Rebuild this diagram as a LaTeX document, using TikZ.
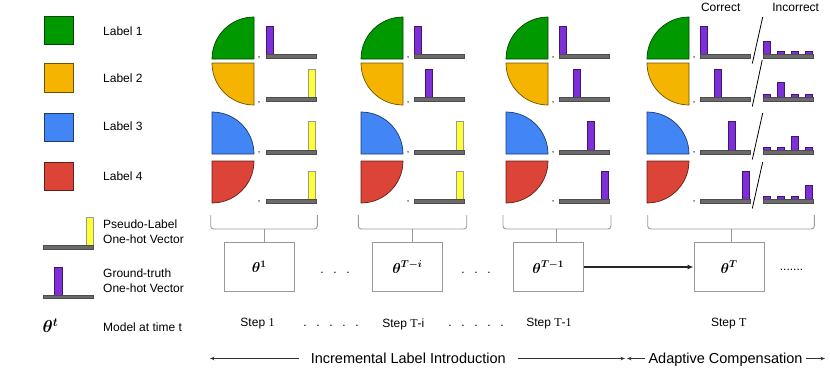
\documentclass[tikz,border=0pt]{standalone}
\usepackage{fontspec}
\setmainfont{Liberation Sans}
\newfontfamily\sernum{Liberation Serif}
\usetikzlibrary{arrows.meta}
\definecolor{cgreen}{HTML}{009900}
\definecolor{cyellow}{HTML}{F4B400}
\definecolor{cblue}{HTML}{4285F4}
\definecolor{cred}{HTML}{DB4437}
\definecolor{cpurple}{HTML}{7E2FD8}
\definecolor{cbright}{HTML}{FFFF33}
\definecolor{cgray}{HTML}{6B6B6B}
\definecolor{cline}{HTML}{999999}
\newcommand{\QuadTL}[3]{\filldraw[#3,shift={(#1,#2)}] (-42,0) .. controls (-42,-23.2) and (-23.2,-42) .. (0,-42) -- (0,0) -- cycle;}
\newcommand{\QuadBL}[3]{\filldraw[#3,shift={(#1,#2)}] (-42,0) .. controls (-42,23.2) and (-23.2,42) .. (0,42) -- (0,0) -- cycle;}
\newcommand{\QuadTR}[3]{\filldraw[#3,shift={(#1,#2)}] (0,-42) .. controls (23.2,-42) and (42,-23.2) .. (42,0) -- (0,0) -- cycle;}
\newcommand{\QuadBR}[3]{\filldraw[#3,shift={(#1,#2)}] (42,0) .. controls (42,23.2) and (23.2,42) .. (0,42) -- (0,0) -- cycle;}
\newcommand{\HotBar}[5]{\filldraw[#5] ({#1+14*#3},{#2}) rectangle ({#1+14*#3+7.5},{#2-#4});}
\newcommand{\GrayBar}[2]{\filldraw[graybar] (#1,#2) rectangle ({#1+50},{#2+3.8});}
\tikzset{
  greenq/.style={fill=cgreen, draw=cgreen!45!black, line width=0.7pt},
  yellowq/.style={fill=cyellow, draw=cyellow!45!black, line width=0.7pt},
  blueq/.style={fill=cblue, draw=cblue!45!black, line width=0.7pt},
  redq/.style={fill=cred, draw=cred!45!black, line width=0.7pt},
  purplebar/.style={fill=cpurple, draw=cpurple!50!black, line width=0.6pt},
  yellowbar/.style={fill=cbright, draw=black!40, line width=0.6pt},
  graybar/.style={fill=cgray, draw=black!70, line width=0.6pt},
  slashline/.style={draw=black, line width=0.8pt},
  comma/.style={font=\fontsize{9}{10}\selectfont, inner sep=0pt, anchor=base},
  mbox/.style={draw=cline, line width=0.9pt, minimum width=70pt, minimum height=49.5pt, inner sep=0pt, font=\fontsize{14}{16}\selectfont\boldmath},
  bracel/.style={draw=cline, line width=0.9pt, rounded corners=3pt},
  bracetip/.style={draw=cline, line width=0.9pt},
  lbl/.style={anchor=west, font=\fontsize{12}{15}\selectfont, inner sep=0pt, align=left},
  toplbl/.style={font=\fontsize{12}{14}\selectfont, inner sep=0pt},
  steplbl/.style={font=\fontsize{12}{14}\selectfont, inner sep=0pt},
  dotstxt/.style={font=\fontsize{12}{14}\selectfont, inner sep=0pt},
  bigtxt/.style={font=\fontsize{14.5}{17}\selectfont, inner ysep=0pt, text height=10.4pt, text depth=0pt},
  tipline/.style={draw=black!80, line width=0.8pt, -{Stealth[length=4.5pt,width=3.5pt]}},
  flowarrow/.style={draw=black!85, line width=1.3pt, -{Latex[length=6pt,width=5pt]}},
}
\begin{document}
\begin{tikzpicture}[x=1pt,y=-1pt]
\useasboundingbox (0,0) rectangle (830,367);

% ---------------- legend ----------------
\filldraw[greenq] (44,16) rectangle (73,44);
\filldraw[yellowq] (44,63) rectangle (73,92);
\filldraw[blueq] (44,113) rectangle (73,141);
\filldraw[redq] (44,162) rectangle (73,190);
\node[lbl] (l1) at (103,31) {Label 1};
\node[lbl] (l2) at (103,78) {Label 2};
\node[lbl] (l3) at (103,126.5) {Label 3};
\node[lbl] (l4) at (103,176) {Label 4};

\filldraw[yellowbar] (86,245.5) rectangle (93.5,217);
\filldraw[graybar] (43,245.5) rectangle (93.5,249.3);
\node[lbl] (lp) at (103,231.5) {Pseudo-Label\\One-hot Vector};

\filldraw[purplebar] (54,295) rectangle (62,267);
\filldraw[graybar] (43,295) rectangle (93.5,298.6);
\node[lbl] (lg) at (103,281) {Ground-truth\\One-hot Vector};

\node[font=\fontsize{18}{20}\selectfont\boldmath, inner sep=0pt] (tleg) at (50.5,326) {$\theta^t$};
\node[lbl] (lm) at (103,327) {Model at time t};

% ---------------- column 1 ----------------
\QuadTL{254}{59}{greenq}
\QuadBL{254}{63}{yellowq}
\QuadTR{212}{154}{blueq}
\QuadBR{212}{161}{redq}
\node[comma] (c11) at (259,57) {,};
\node[comma] (c12) at (259,102) {,};
\node[comma] (c13) at (259,152) {,};
\node[comma] (c14) at (259,201) {,};
\HotBar{266}{54.5}{0}{28.5}{purplebar}\GrayBar{266}{54.5}
\HotBar{266}{97.3}{3}{28.5}{yellowbar}\GrayBar{266}{97.3}
\HotBar{266}{150.1}{3}{28.5}{yellowbar}\GrayBar{266}{150.1}
\HotBar{266}{199.3}{3}{28.5}{yellowbar}\GrayBar{266}{199.3}

% ---------------- column 2 ----------------
\QuadTL{403}{59}{greenq}
\QuadBL{403}{63}{yellowq}
\QuadTR{361}{154}{blueq}
\QuadBR{361}{161}{redq}
\node[comma] (c21) at (408,57) {,};
\node[comma] (c22) at (408,102) {,};
\node[comma] (c23) at (408,152) {,};
\node[comma] (c24) at (408,201) {,};
\HotBar{414}{54.5}{0}{28.5}{purplebar}\GrayBar{414}{54.5}
\HotBar{414}{97.3}{0.8}{28.5}{purplebar}\GrayBar{414}{97.3}
\HotBar{414}{150.1}{3}{28.5}{yellowbar}\GrayBar{414}{150.1}
\HotBar{414}{199.3}{3}{28.5}{yellowbar}\GrayBar{414}{199.3}

% ---------------- column 3 ----------------
\QuadTL{548}{59}{greenq}
\QuadBL{548}{63}{yellowq}
\QuadTR{506}{154}{blueq}
\QuadBR{506}{161}{redq}
\node[comma] (c31) at (553,57) {,};
\node[comma] (c32) at (553,102) {,};
\node[comma] (c33) at (553,152) {,};
\node[comma] (c34) at (553,201) {,};
\HotBar{559}{54.5}{0}{28.5}{purplebar}\GrayBar{559}{54.5}
\HotBar{559}{97.3}{1}{28.5}{purplebar}\GrayBar{559}{97.3}
\HotBar{559}{150.1}{2}{28.5}{purplebar}\GrayBar{559}{150.1}
\HotBar{559}{199.3}{3}{28.5}{purplebar}\GrayBar{559}{199.3}

% ---------------- column 4 ----------------
\node[toplbl] (corr) at (720.7,7.5) {Correct};
\node[toplbl] (inco) at (795.7,7.5) {Incorrect};
\QuadTL{689}{59}{greenq}
\QuadBL{689}{63}{yellowq}
\QuadTR{647}{154}{blueq}
\QuadBR{647}{161}{redq}
\node[comma] (c41) at (694,57) {,};
\node[comma] (c42) at (694,102) {,};
\node[comma] (c43) at (694,152) {,};
\node[comma] (c44) at (694,201) {,};
\HotBar{700}{54.5}{0}{28.5}{purplebar}\GrayBar{700}{54.5}
\HotBar{700}{97.3}{1}{28.5}{purplebar}\GrayBar{700}{97.3}
\HotBar{700}{150.1}{2}{28.5}{purplebar}\GrayBar{700}{150.1}
\HotBar{700}{199.3}{3}{28.5}{purplebar}\GrayBar{700}{199.3}
% incorrect
\HotBar{763}{54.5}{0}{13.5}{purplebar}\HotBar{763}{54.5}{1}{3}{purplebar}\HotBar{763}{54.5}{2}{3}{purplebar}\HotBar{763}{54.5}{3}{3}{purplebar}\GrayBar{763}{54.5}
\HotBar{763}{97.3}{0}{3}{purplebar}\HotBar{763}{97.3}{1}{14.6}{purplebar}\HotBar{763}{97.3}{2}{3}{purplebar}\HotBar{763}{97.3}{3}{3}{purplebar}\GrayBar{763}{97.3}
\HotBar{763}{150.1}{0}{3}{purplebar}\HotBar{763}{150.1}{1}{3}{purplebar}\HotBar{763}{150.1}{2}{14}{purplebar}\HotBar{763}{150.1}{3}{3}{purplebar}\GrayBar{763}{150.1}
\HotBar{763}{199.3}{0}{3}{purplebar}\HotBar{763}{199.3}{1}{3}{purplebar}\HotBar{763}{199.3}{2}{3}{purplebar}\HotBar{763}{199.3}{3}{13.6}{purplebar}\GrayBar{763}{199.3}
\draw[slashline] (762.7,17) -- (752.3,63.5);
\draw[slashline] (762.2,60) -- (752.3,106.5);
\draw[slashline] (762.7,113) -- (752.3,159.5);
\draw[slashline] (762.7,162) -- (752.3,208.5);

% ---------------- model boxes ----------------
\node[mbox] (b1) at (259.2,267) {$\theta^{1}$};
\node[mbox] (b2) at (407.3,267) {$\theta^{T-i}$};
\node[mbox] (b3) at (548.3,267) {$\theta^{T-1}$};
\node[mbox] (b4) at (729,267) {$\theta^{T}$};
\draw[flowarrow] (b3.east) -- (b4.west);

\node[dotstxt] (d1) at (335,272.5) {.\hspace{9.7pt}.\hspace{9.7pt}.};
\node[dotstxt] (d2) at (476,272.5) {.\hspace{9.7pt}.\hspace{9.7pt}.};
\node[dotstxt] (d3) at (791.5,270) {.......};

% ---------------- braces ----------------
\draw[bracel] (210.7,215) |- (317.3,229) -- (317.3,215);
\draw[bracel] (358.3,215) |- (466.7,229) -- (466.7,215);
\draw[bracel] (503,215) |- (611,229) -- (611,215);
\draw[bracel] (647.7,215) |- (814.3,229) -- (814.3,215);
\coordinate (t1) at (264,229);
\coordinate (t2) at (412.4,229);
\coordinate (t3) at (556.8,229);
\coordinate (t4) at (731,229);
\draw[bracetip] (t1) -- (t1 |- b1.north);
\draw[bracetip] (t2) -- (t2 |- b2.north);
\draw[bracetip] (t3) -- (t3 |- b3.north);
\draw[bracetip] (t4) -- (t4 |- b4.north);

% ---------------- steps ----------------
\node[steplbl] (s1) at (257.5,324) {Step {\sernum 1}};
\node[steplbl] (s2) at (403.3,324) {Step {\sernum T}-i};
\node[steplbl] (s3) at (549,324) {Step {\sernum T}-{\sernum 1}};
\node[steplbl] (s4) at (728.7,324) {Step {\sernum T}};
\node[dotstxt] (sd1) at (331,326) {.\hspace{9.7pt}.\hspace{9.7pt}.\hspace{9.7pt}.\hspace{9.7pt}.};
\node[dotstxt] (sd2) at (476,326) {.\hspace{9.7pt}.\hspace{9.7pt}.\hspace{9.7pt}.\hspace{9.7pt}.};

% ---------------- phases ----------------
\coordinate (al) at (210,358.5);
\coordinate (am) at (625,358.5);
\coordinate (am2) at (627,358.5);
\coordinate (ar) at (825,358.5);
\node[bigtxt, inner xsep=12pt] (inc) at (408.3,358.5) {Incremental Label Introduction};
\node[bigtxt, inner xsep=3pt] (adp) at (725.5,358.5) {Adaptive Compensation};
\draw[tipline] (inc.west) -- (al);
\draw[tipline] (inc.east) -- (am);
\draw[tipline] (adp.west) -- (am2);
\draw[tipline] (adp.east) -- (ar);
\end{tikzpicture}
\end{document}
